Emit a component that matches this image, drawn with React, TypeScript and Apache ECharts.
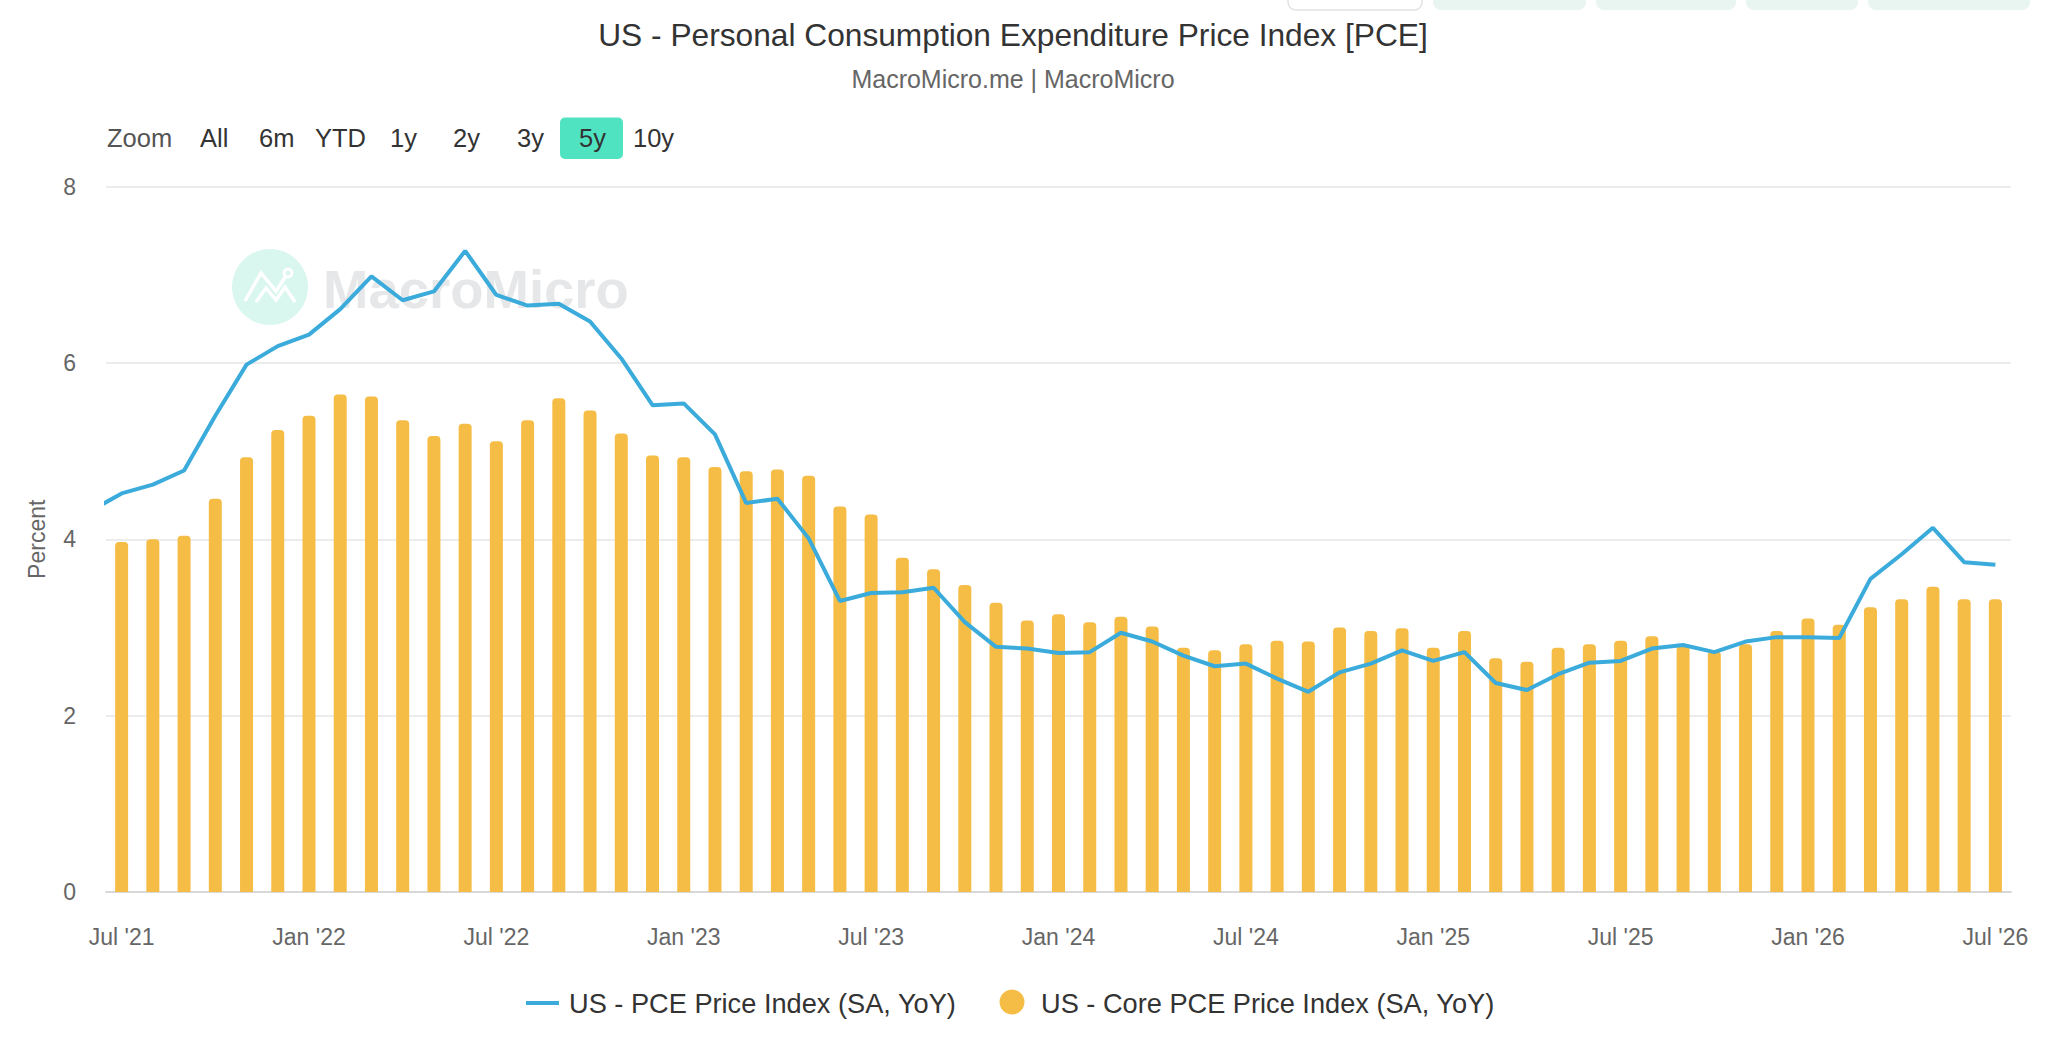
import React, { useEffect, useRef } from "react";
import * as echarts from "echarts";

// Monthly observations, Jul 2021 .. Jul 2026
const startYear = 2021;
const startMonth = 6; // 0-based: July
const monthNames = ["Jan", "Feb", "Mar", "Apr", "May", "Jun", "Jul", "Aug", "Sep", "Oct", "Nov", "Dec"];

// US - Core PCE Price Index (SA, YoY)
const corePce = [
  3.97, 4.0, 4.04, 4.46, 4.93, 5.24, 5.4, 5.64, 5.62, 5.35,
  5.17, 5.31, 5.11, 5.35, 5.6, 5.46, 5.2, 4.95, 4.93, 4.82,
  4.77, 4.79, 4.72, 4.37, 4.28, 3.79, 3.66, 3.48, 3.28, 3.08,
  3.15, 3.06, 3.12, 3.01, 2.77, 2.74, 2.81, 2.85, 2.84, 3.0,
  2.96, 2.99, 2.77, 2.96, 2.65, 2.61, 2.77, 2.81, 2.85, 2.9,
  2.79, 2.73, 2.81, 2.96, 3.1, 3.03, 3.23, 3.32, 3.46, 3.32, 3.32,
];

// US - PCE Price Index (SA, YoY)
const pcePrior = 4.32; // Jun 2021, just left of the visible window
const pce = [
  4.52, 4.62, 4.78, 5.4, 5.98, 6.19, 6.32, 6.61, 6.98, 6.71,
  6.81, 7.27, 6.77, 6.65, 6.67, 6.47, 6.05, 5.52, 5.54, 5.19,
  4.41, 4.46, 4.01, 3.3, 3.39, 3.4, 3.45, 3.06, 2.78, 2.76,
  2.71, 2.72, 2.94, 2.84, 2.68, 2.56, 2.59, 2.42, 2.27, 2.49,
  2.59, 2.74, 2.62, 2.72, 2.37, 2.29, 2.47, 2.6, 2.62, 2.76,
  2.8, 2.72, 2.84, 2.89, 2.89, 2.88, 3.55, 3.83, 4.13, 3.74, 3.71,
];

const yTicks = [0, 2, 4, 6, 8];
const zoomButtons = ["Zoom", "All", "6m", "YTD", "1y", "2y", "3y", "5y", "10y"];
const seriesNames = ["US - PCE Price Index (SA, YoY)", "US - Core PCE Price Index (SA, YoY)"];

const categories = corePce.map((_, i) => {
  const m = (startMonth + i) % 12;
  const y = startYear + Math.floor((startMonth + i) / 12);
  return `${monthNames[m]} '${String(y).slice(2)}`;
});

const FONT = "'Liberation Sans', Arial, Helvetica, sans-serif";
const LINE_COLOR = "#3aabdb";
const BAR_COLOR = "#f5bd45";

export default function App() {
  const ref = useRef<HTMLDivElement>(null);

  useEffect(() => {
    document.body.style.margin = "0";
    document.body.style.overflow = "hidden";
    if (!ref.current) return;
    const chart = echarts.init(ref.current, undefined, { renderer: "svg" });

    const zoomX = [107, 200, 259, 315, 390, 453, 517, 579, 633];
    const buttonTexts: any[] = zoomButtons.map((t, i) => ({
      type: "text",
      x: zoomX[i],
      y: 138,
      z: 10,
      style: {
        text: t,
        fontSize: 25.5,
        fontFamily: FONT,
        fill: i === 0 ? "#555" : "#333",
        verticalAlign: "middle",
      },
    }));

    const topButtons = [
      { x: 1288, w: 134, fill: "#ffffff", stroke: "#e2e2e2" },
      { x: 1433, w: 153, fill: "#e9f5f1", stroke: null },
      { x: 1596, w: 140, fill: "#e9f5f1", stroke: null },
      { x: 1746, w: 112, fill: "#e9f5f1", stroke: null },
      { x: 1868, w: 162, fill: "#e9f5f1", stroke: null },
    ].map((b) => ({
      type: "rect",
      shape: { x: b.x, y: -30, width: b.w, height: 40, r: 8 },
      style: b.stroke ? { fill: b.fill, stroke: b.stroke, lineWidth: 1.5 } : { fill: b.fill },
    }));

    const option: any = {
      animation: false,
      backgroundColor: "#ffffff",
      textStyle: { fontFamily: FONT },
      grid: { left: 106, right: 37, top: 186.5, bottom: 154, containLabel: false },
      xAxis: [
        {
          type: "category",
          data: categories,
          boundaryGap: true,
          axisLine: { lineStyle: { color: "#d8d8d8", width: 2 } },
          axisTick: {
            alignWithLabel: true,
            length: 20,
            interval: (i: number) => i % 6 === 0,
            lineStyle: { color: "#d8d8d8", width: 2 },
          },
          axisLabel: {
            interval: (i: number) => i % 6 === 0,
            margin: 33,
            fontSize: 23,
            color: "#666",
            fontFamily: FONT,
          },
          splitLine: { show: false },
        },
        {
          type: "value",
          min: -0.5,
          max: 60.5,
          show: false,
        },
      ],
      yAxis: {
        type: "value",
        min: yTicks[0],
        max: yTicks[yTicks.length - 1],
        interval: 2,
        name: "Percent",
        nameLocation: "middle",
        nameGap: 58,
        nameRotate: 90,
        nameTextStyle: { fontSize: 23, color: "#666", fontFamily: FONT },
        axisLine: { show: false },
        axisTick: { show: false },
        axisLabel: { margin: 30, fontSize: 23, color: "#666", fontFamily: FONT },
        splitLine: { lineStyle: { color: "#e6e6e6", width: 1.5 } },
      },
      series: [
        {
          name: seriesNames[1],
          type: "bar",
          xAxisIndex: 0,
          data: corePce,
          barWidth: 13,
          itemStyle: { color: BAR_COLOR, borderRadius: [4, 4, 0, 0] },
          z: 2,
        },
        {
          name: seriesNames[0],
          type: "line",
          xAxisIndex: 1,
          data: [[-1, pcePrior], ...pce.map((v, i) => [i, v])],
          showSymbol: false,
          symbol: "none",
          clip: true,
          lineStyle: { color: LINE_COLOR, width: 4 },
          itemStyle: { color: LINE_COLOR },
          z: 5,
        },
      ],
      graphic: [
        // watermark
        { type: "circle", shape: { cx: 270, cy: 287, r: 38 }, style: { fill: "#d9f7ef" }, z: 0 },
        {
          type: "polyline",
          shape: { points: [[245, 301], [261, 273], [276, 291], [286, 276]] },
          style: { stroke: "#ffffff", lineWidth: 3.5, fill: null },
          z: 1,
        },
        {
          type: "polyline",
          shape: { points: [[256, 302], [266, 288], [276, 300], [285, 287], [295, 302]] },
          style: { stroke: "#ffffff", lineWidth: 3.5, fill: null },
          z: 1,
        },
        { type: "circle", shape: { cx: 288, cy: 273, r: 4 }, style: { fill: "#d9f7ef", stroke: "#ffffff", lineWidth: 3 }, z: 1 },
        {
          type: "text",
          x: 323,
          y: 289,
          z: 0,
          style: {
            text: "MacroMicro",
            fontSize: 54.5,
            fontWeight: "bold",
            fontFamily: FONT,
            fill: "#e6e7e9",
            verticalAlign: "middle",
          },
        },
        // title
        {
          type: "text",
          x: 1013,
          y: 35,
          style: {
            text: "US - Personal Consumption Expenditure Price Index [PCE]",
            fontSize: 31.7,
            fontFamily: FONT,
            fill: "#333",
            align: "center",
            verticalAlign: "middle",
          },
        },
        {
          type: "text",
          x: 1013,
          y: 79,
          style: {
            text: "MacroMicro.me | MacroMicro",
            fontSize: 25,
            fontFamily: FONT,
            fill: "#666",
            align: "center",
            verticalAlign: "middle",
          },
        },
        // range selector
        { type: "rect", shape: { x: 560, y: 117.5, width: 63, height: 41.5, r: 5 }, style: { fill: "#50e3c2" }, z: 5 },
        ...buttonTexts,
        ...topButtons,
        // legend
        { type: "rect", shape: { x: 526, y: 1001, width: 33, height: 4 }, style: { fill: LINE_COLOR } },
        {
          type: "text",
          x: 569,
          y: 1003,
          style: { text: seriesNames[0], fontSize: 27.2, fontFamily: FONT, fill: "#333", verticalAlign: "middle" },
        },
        { type: "circle", shape: { cx: 1012, cy: 1002, r: 12.5 }, style: { fill: BAR_COLOR } },
        {
          type: "text",
          x: 1041,
          y: 1003,
          style: { text: seriesNames[1], fontSize: 27.2, fontFamily: FONT, fill: "#333", verticalAlign: "middle" },
        },
      ],
    };

    chart.setOption(option);
    return () => chart.dispose();
  }, []);

  return <div ref={ref} style={{ width: 2048, height: 1046 }} />;
}
